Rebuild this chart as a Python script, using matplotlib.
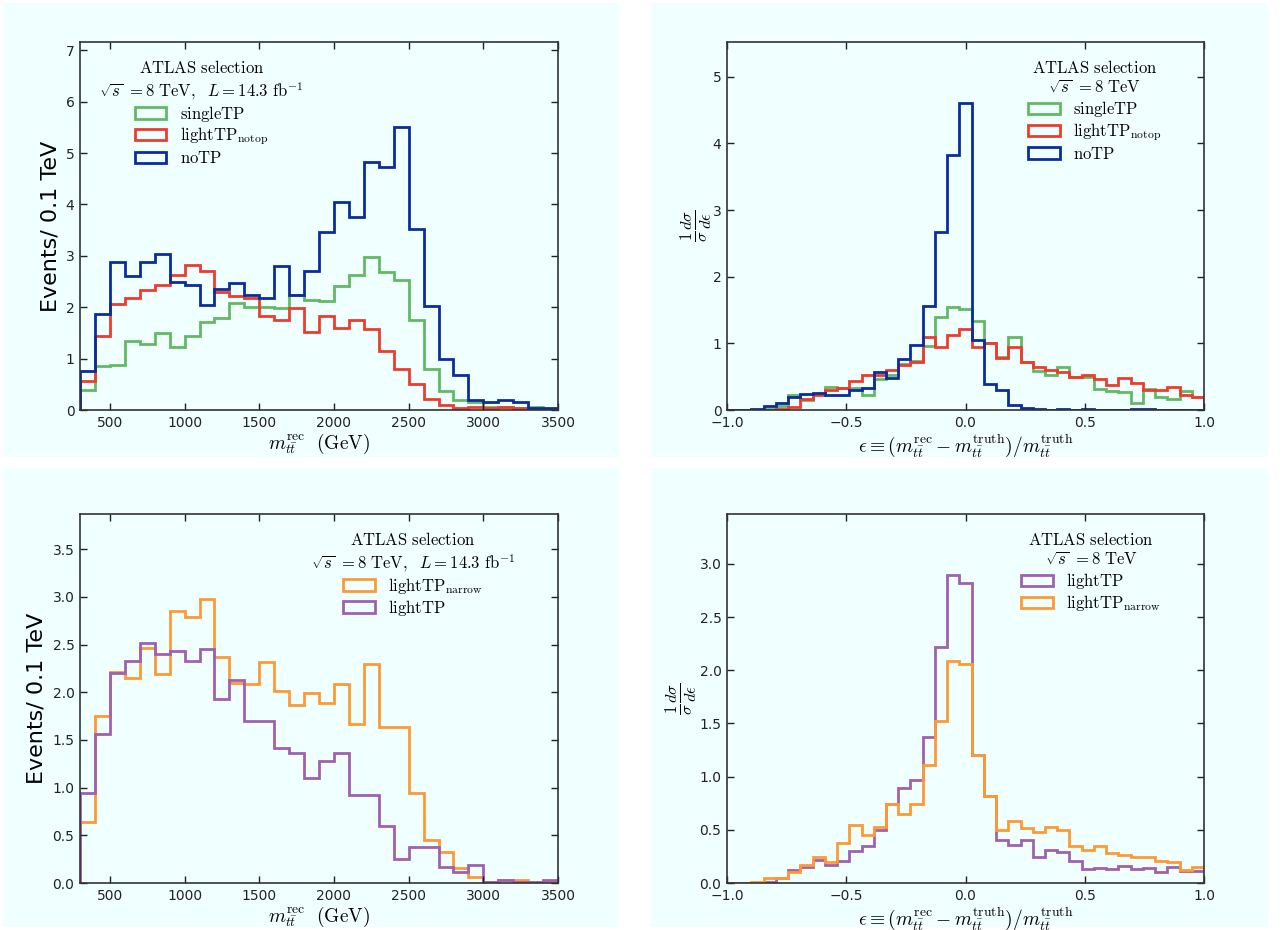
import numpy as np
import matplotlib
matplotlib.use("Agg")
import matplotlib.pyplot as plt
from matplotlib.patches import Rectangle, StepPatch
from matplotlib.legend_handler import HandlerPatch

plt.rcParams['mathtext.fontset'] = 'cm'
plt.rcParams['font.family'] = ['DejaVu Sans']

# ---------------- data ----------------
mass_edges = np.arange(300, 3501, 100)           # 32 bins of 100 GeV
eps_edges = np.linspace(-1.0, 1.0, 40)            # 39 bins

# panel 1 : m_tt^rec
m_singleTP = [0.38, 0.86, 0.88, 1.35, 1.28, 1.49, 1.22, 1.44, 1.71, 1.79, 2.09, 2.00, 2.00, 1.98,
              2.24, 2.14, 2.12, 2.41, 2.63, 2.98, 2.68, 2.52, 1.76, 0.80, 0.37, 0.20, 0.15, 0.06,
              0.05, 0.04, 0.06, 0.02]
m_lightTP_notop = [0.57, 1.44, 2.07, 2.18, 2.33, 2.44, 2.63, 2.82, 2.70, 2.29, 2.21, 2.18, 1.83, 1.75,
                   1.98, 1.52, 1.82, 1.60, 1.75, 1.58, 1.15, 0.80, 0.50, 0.22, 0.10, 0.04, 0.05, 0.03,
                   0.06, 0.03, 0.01, 0.01]
m_noTP = [0.75, 1.86, 2.87, 2.60, 2.87, 3.03, 2.50, 2.44, 2.05, 2.35, 2.48, 2.24, 2.18, 2.80,
          2.24, 2.71, 3.46, 4.05, 3.75, 4.83, 4.73, 5.51, 3.52, 2.02, 1.00, 0.68, 0.20, 0.16,
          0.19, 0.15, 0.03, 0.03]

# panel 2 : epsilon
e_singleTP = [0.0, 0.0, 0.0, 0.02, 0.06, 0.22, 0.15, 0.24, 0.35, 0.33, 0.33, 0.22, 0.46, 0.52,
              0.69, 0.73, 0.96, 1.39, 1.55, 1.51, 1.33, 1.00, 0.80, 1.09, 0.72, 0.58, 0.53, 0.64,
              0.49, 0.50, 0.31, 0.29, 0.27, 0.11, 0.31, 0.20, 0.17, 0.29, 0.20]
e_lightTP_notop = [0.0, 0.0, 0.0, 0.0, 0.01, 0.05, 0.17, 0.22, 0.30, 0.33, 0.44, 0.53, 0.53, 0.60,
                   0.67, 0.72, 1.09, 0.95, 1.12, 1.21, 0.94, 1.01, 0.78, 0.94, 0.72, 0.65, 0.60, 0.57,
                   0.49, 0.53, 0.47, 0.38, 0.48, 0.41, 0.30, 0.30, 0.34, 0.23, 0.20]
e_noTP = [0.0, 0.0, 0.01, 0.055, 0.10, 0.19, 0.24, 0.26, 0.22, 0.23, 0.30, 0.33, 0.57, 0.48,
          0.77, 0.97, 1.56, 2.67, 3.83, 4.60, 1.05, 0.39, 0.30, 0.08, 0.03, 0.015, 0.0, 0.01,
          0.0, 0.01, 0.005, 0.0, 0.0, 0.015, 0.015, 0.0, 0.0, 0.0, 0.0]

# panel 3 : m_tt^rec
m_lightTP_narrow = [0.64, 1.75, 2.21, 2.15, 2.46, 2.19, 2.85, 2.79, 2.98, 2.37, 2.10, 2.09, 2.32, 2.01,
                    1.87, 1.99, 1.89, 2.09, 1.67, 2.30, 1.64, 1.64, 0.94, 0.45, 0.32, 0.16, 0.06, 0.01,
                    0.03, 0.03, 0.01, 0.02]
m_lightTP = [0.94, 1.56, 2.20, 2.33, 2.52, 2.40, 2.43, 2.33, 2.45, 1.93, 2.13, 1.70, 1.70, 1.42,
             1.36, 1.10, 1.28, 1.36, 0.92, 0.92, 0.60, 0.25, 0.38, 0.38, 0.17, 0.12, 0.19, 0.01,
             0.03, 0.015, 0.015, 0.03]

# panel 4 : epsilon
e_lightTP = [0.0, 0.0, 0.0, 0.01, 0.05, 0.12, 0.15, 0.22, 0.17, 0.21, 0.30, 0.35, 0.50, 0.74,
             0.89, 0.97, 1.37, 2.22, 2.90, 2.82, 1.20, 0.82, 0.40, 0.36, 0.40, 0.24, 0.31, 0.29,
             0.21, 0.13, 0.14, 0.13, 0.16, 0.13, 0.14, 0.10, 0.15, 0.11, 0.11]
e_lightTP_narrow = [0.0, 0.0, 0.01, 0.05, 0.05, 0.10, 0.17, 0.24, 0.20, 0.38, 0.55, 0.45, 0.53, 0.74,
                    0.65, 0.74, 1.11, 1.52, 2.09, 2.06, 1.20, 0.82, 0.50, 0.58, 0.52, 0.48, 0.53, 0.50,
                    0.35, 0.31, 0.35, 0.28, 0.26, 0.24, 0.24, 0.21, 0.20, 0.12, 0.15]

mass_xticks = [500, 1000, 1500, 2000, 2500, 3000, 3500]
eps_xticks = [-1.0, -0.5, 0.0, 0.5, 1.0]

# ---------------- style ----------------
C_GREEN = '#62b962'
C_RED = '#ef3b2c'
C_BLUE = '#0a2d9e'
C_ORANGE = '#ff9933'
C_PURPLE = '#a060b0'
BG = '#f0ffff'
LW = 2.0

W, H = 1281, 930
fig = plt.figure(figsize=(W / 100, H / 100), dpi=100, facecolor='white')

for (x0, y0, x1, y1) in [(3, 3, 619, 457), (651, 3, 1268, 457),
                         (3, 468, 619, 927), (651, 468, 1268, 927)]:
    fig.patches.append(Rectangle((x0 / W, 1 - y1 / H), (x1 - x0) / W, (y1 - y0) / H,
                                 transform=fig.transFigure, facecolor=BG, edgecolor='none',
                                 zorder=-10))


def ax_at(l, t, r, b):
    ax = fig.add_axes([l / W, 1 - b / H, (r - l) / W, (b - t) / H])
    ax.set_facecolor(BG)
    ax.tick_params(direction='in', top=True, right=True, length=5, width=1,
                   labelsize=10, pad=4, colors='#222222')
    for s in ax.spines.values():
        s.set_color('#333333')
        s.set_linewidth(1.2)
    return ax


TITLE_M = ('$\\mathrm{ATLAS\\ selection}$\n'
           '$\\sqrt{s}\\ {=}8\\ \\mathrm{TeV},\\ \\ L{=}14.3\\ \\mathrm{fb}^{-1}$')
TITLE_E = ('$\\mathrm{ATLAS\\ selection}$\n'
           '$\\sqrt{s}\\ {=}8\\ \\mathrm{TeV}$')
XLAB_M = r'$m_{t\bar{t}}^{\mathrm{rec}}\ \ (\mathrm{GeV})$'
XLAB_E = (r'$\epsilon \equiv (m_{t\bar{t}}^{\mathrm{rec}} - m_{t\bar{t}}^{\mathrm{truth}})'
          r'/m_{t\bar{t}}^{\mathrm{truth}}$')
YLAB_E = r'$\frac{1}{\sigma}\frac{d\sigma}{d\epsilon}$'


def add_legend(ax, title, loc, anchor):
    leg = ax.legend(loc=loc, bbox_to_anchor=anchor, frameon=False, fontsize=12,
                    title=title, title_fontsize=12, borderpad=0.0, borderaxespad=0.0,
                    handlelength=1.9, handleheight=0.7, handletextpad=0.8,
                    labelspacing=0.12, handler_map={StepPatch: HandlerPatch()})
    leg.get_title().set_multialignment('center')
    return leg


# ---- panel 1 ----
ax1 = ax_at(80, 42, 558, 410)
ax1.stairs(m_singleTP, mass_edges, color=C_GREEN, lw=LW, label=r'$\mathrm{singleTP}$')
ax1.stairs(m_lightTP_notop, mass_edges, color=C_RED, lw=LW,
           label=r'$\mathrm{lightTP}_{\mathrm{notop}}$')
ax1.stairs(m_noTP, mass_edges, color=C_BLUE, lw=LW, label=r'$\mathrm{noTP}$')
ax1.set_xlim(300, 3500)
ax1.set_ylim(0, 7.16)
ax1.set_xticks(mass_xticks)
ax1.set_yticks(range(0, 8))
ax1.set_xlabel(XLAB_M, fontsize=14, labelpad=2)
ax1.set_ylabel('Events/ 0.1 TeV', fontsize=16, labelpad=4)
add_legend(ax1, TITLE_M, 'upper left', (0.04, 0.955))

# ---- panel 2 ----
ax2 = ax_at(727, 42, 1204, 410)
ax2.stairs(e_singleTP, eps_edges, color=C_GREEN, lw=LW, label=r'$\mathrm{singleTP}$')
ax2.stairs(e_lightTP_notop, eps_edges, color=C_RED, lw=LW,
           label=r'$\mathrm{lightTP}_{\mathrm{notop}}$')
ax2.stairs(e_noTP, eps_edges, color=C_BLUE, lw=LW, label=r'$\mathrm{noTP}$')
ax2.set_xlim(-1, 1)
ax2.set_ylim(0, 5.52)
ax2.set_xticks(eps_xticks)
ax2.set_yticks(range(0, 6))
ax2.set_xlabel(XLAB_E, fontsize=14, labelpad=2)
ax2.set_ylabel(YLAB_E, fontsize=17, labelpad=-1)
add_legend(ax2, TITLE_E, 'upper right', (0.91, 0.955))

# ---- panel 3 ----
ax3 = ax_at(80, 514, 558, 883)
ax3.stairs(m_lightTP_narrow, mass_edges, color=C_ORANGE, lw=LW,
           label=r'$\mathrm{lightTP}_{\mathrm{narrow}}$')
ax3.stairs(m_lightTP, mass_edges, color=C_PURPLE, lw=LW, label=r'$\mathrm{lightTP}$')
ax3.set_xlim(300, 3500)
ax3.set_ylim(0, 3.87)
ax3.set_xticks(mass_xticks)
ax3.set_yticks(np.arange(0, 3.51, 0.5))
ax3.set_xlabel(XLAB_M, fontsize=14, labelpad=2)
ax3.set_ylabel('Events/ 0.1 TeV', fontsize=16, labelpad=4)
add_legend(ax3, TITLE_M, 'upper right', (0.91, 0.955))

# ---- panel 4 ----
ax4 = ax_at(727, 514, 1204, 883)
ax4.stairs(e_lightTP, eps_edges, color=C_PURPLE, lw=LW, label=r'$\mathrm{lightTP}$')
ax4.stairs(e_lightTP_narrow, eps_edges, color=C_ORANGE, lw=LW,
           label=r'$\mathrm{lightTP}_{\mathrm{narrow}}$')
ax4.set_xlim(-1, 1)
ax4.set_ylim(0, 3.47)
ax4.set_xticks(eps_xticks)
ax4.set_yticks(np.arange(0, 3.01, 0.5))
ax4.set_xlabel(XLAB_E, fontsize=14, labelpad=2)
ax4.set_ylabel(YLAB_E, fontsize=17, labelpad=0)
add_legend(ax4, TITLE_E, 'upper right', (0.91, 0.955))

fig.savefig('out.png', dpi=100, facecolor='white')
